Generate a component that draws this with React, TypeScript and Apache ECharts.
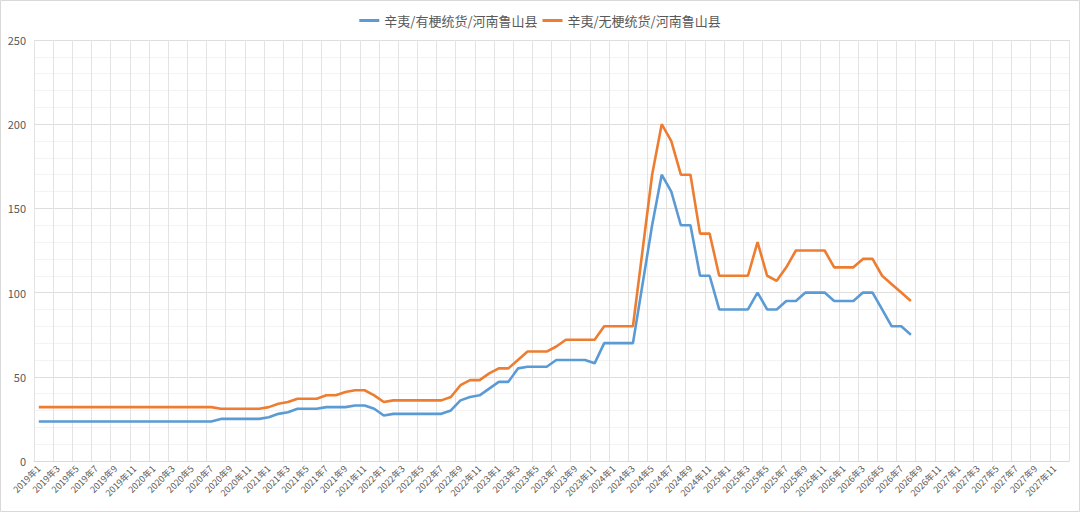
import React, { useEffect, useRef } from "react";
import * as echarts from "echarts";

// Months 2019-01 .. 2027-12
const categories: string[] = [];
for (let y = 2019; y <= 2027; y++) {
  for (let m = 1; m <= 12; m++) categories.push(`${y}年${m}`);
}

const seriesNames = ["辛夷/有梗统货/河南鲁山县", "辛夷/无梗统货/河南鲁山县"];

// 2019-01 .. 2026-08 (92 months)
const youGeng: number[] = [
  // 2019
  23.5, 23.5, 23.5, 23.5, 23.5, 23.5, 23.5, 23.5, 23.5, 23.5, 23.5, 23.5,
  // 2020
  23.5, 23.5, 23.5, 23.5, 23.5, 23.5, 23.5, 25, 25, 25, 25, 25,
  // 2021
  26, 28, 29, 31, 31, 31, 32, 32, 32, 33, 33, 31,
  // 2022
  27, 28, 28, 28, 28, 28, 28, 30, 36, 38, 39, 43,
  // 2023
  47, 47, 55, 56, 56, 56, 60, 60, 60, 60, 58, 70,
  // 2024
  70, 70, 70, 105, 140, 170, 160, 140, 140, 110, 110, 90,
  // 2025
  90, 90, 90, 100, 90, 90, 95, 95, 100, 100, 100, 95,
  // 2026
  95, 95, 100, 100, 90, 80, 80, 75,
];

const wuGeng: number[] = [
  // 2019
  32, 32, 32, 32, 32, 32, 32, 32, 32, 32, 32, 32,
  // 2020
  32, 32, 32, 32, 32, 32, 32, 31, 31, 31, 31, 31,
  // 2021
  32, 34, 35, 37, 37, 37, 39, 39, 41, 42, 42, 39,
  // 2022
  35, 36, 36, 36, 36, 36, 36, 38, 45, 48, 48, 52,
  // 2023
  55, 55, 60, 65, 65, 65, 68, 72, 72, 72, 72, 80,
  // 2024
  80, 80, 80, 125, 170, 200, 190, 170, 170, 135, 135, 110,
  // 2025
  110, 110, 110, 130, 110, 107, 115, 125, 125, 125, 125, 115,
  // 2026
  115, 115, 120, 120, 110, 105, 100, 95,
];

const pad = (arr: number[]) =>
  categories.map((_, i) => (i < arr.length ? arr[i] : null));

export default function App() {
  const ref = useRef<HTMLDivElement>(null);
  useEffect(() => {
    document.body.style.margin = "0";
    const chart = echarts.init(ref.current!, null, { renderer: "svg" });
    const font = "'Noto Sans CJK SC', 'Noto Sans', sans-serif";
    chart.setOption({
      animation: false,
      textStyle: { fontFamily: font },
      color: ["#5B9BD5", "#ED7D31"],
      graphic: [
        {
          type: "rect",
          shape: { x: 0.5, y: 0.5, width: 1079, height: 511 },
          style: { fill: "none", stroke: "#d9d9d9", lineWidth: 1 },
          silent: true,
        },
      ],
      legend: {
        top: 9,
        left: "center",
        itemWidth: 20,
        itemHeight: 3,
        itemGap: 5,
        icon: "rect",
        textStyle: { fontSize: 13, color: "#595959", fontFamily: font },
        data: seriesNames,
      },
      grid: { left: 34, right: 11, top: 40, bottom: 51, containLabel: false },
      xAxis: {
        type: "category",
        data: categories,
        boundaryGap: true,
        axisLine: { show: true, lineStyle: { color: "#d9d9d9" } },
        axisTick: { show: false },
        axisLabel: {
          interval: 1,
          rotate: 45,
          fontSize: 9,
          color: "#595959",
          margin: 6,
        },
        splitLine: {
          show: true,
          interval: 1,
          lineStyle: { color: "#e3e3e3", width: 1 },
        },
      },
      yAxis: {
        type: "value",
        min: 0,
        max: 250,
        interval: 50,
        axisLine: { show: false },
        axisTick: { show: false },
        axisLabel: { fontSize: 11, color: "#595959", margin: 8 },
        splitLine: { lineStyle: { color: "#dedede", width: 1 } },
        minorTick: { show: false, splitNumber: 5 },
        minorSplitLine: { show: true, lineStyle: { color: "#f3f3f3", width: 1 } },
      },
      series: [
        {
          name: seriesNames[0],
          type: "line",
          data: pad(youGeng),
          symbol: "none",
          lineStyle: { width: 2.6, color: "#5B9BD5" },
          itemStyle: { color: "#5B9BD5" },
        },
        {
          name: seriesNames[1],
          type: "line",
          data: pad(wuGeng),
          symbol: "none",
          lineStyle: { width: 2.6, color: "#ED7D31" },
          itemStyle: { color: "#ED7D31" },
        },
      ],
    });
    return () => chart.dispose();
  }, []);
  return <div ref={ref} style={{ width: 1080, height: 512 }} />;
}
